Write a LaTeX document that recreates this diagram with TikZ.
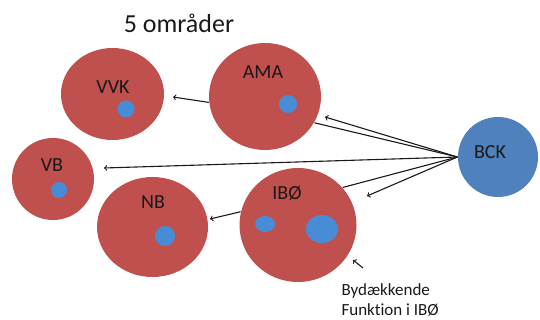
\documentclass[tikz,border=0pt]{standalone}
\usepackage{fontspec}
\setmainfont{Carlito}[Ligatures=NoCommon]
\usetikzlibrary{arrows,shapes}
\definecolor{areared}{RGB}{192,80,77}
\definecolor{bckblue}{RGB}{79,129,189}
\definecolor{dotblue}{RGB}{72,140,214}
\begin{document}
\begin{tikzpicture}[x=1pt, y=-1pt, line width=1.1pt, draw=black!90, area node/.style={ellipse,fill=areared,inner sep=0pt}, dot node/.style={ellipse,fill=dotblue,inner sep=0pt}, name node/.style={font=\fontsize{20}{24}\selectfont, text=black!90, inner sep=0pt}]
\useasboundingbox (0,0) rectangle (540,320);
\begin{scope}
\node[area node, minimum width=103pt, minimum height=92pt] (vvk) at (112.5,94) {};
\node[area node, minimum width=112pt, minimum height=107pt] (ama) at (265,96.5) {};
\node[area node, minimum width=82pt, minimum height=82pt] (vb) at (53,179) {};
\node[area node, minimum width=111pt, minimum height=100pt] (nb) at (152.5,227) {};
\node[area node, minimum width=117pt, minimum height=114pt] (ibo) at (298,225) {};
\node[circle, fill=bckblue, minimum size=80pt, inner sep=0pt] (bck) at (498,157) {};
\end{scope}
\begin{scope}
\node[dot node, minimum width=17pt, minimum height=17pt] (vvk dot) at (126,109) {};
\node[dot node, minimum width=18pt, minimum height=18pt] (ama dot) at (288,104) {};
\node[dot node, minimum width=16pt, minimum height=16pt] (vb dot) at (59,190) {};
\node[dot node, minimum width=20pt, minimum height=20pt] (nb dot) at (165,236) {};
\node[dot node, minimum width=20pt, minimum height=16pt] (ibo dot1) at (265,224) {};
\node[dot node, minimum width=32pt, minimum height=28pt] (ibo dot2) at (322,229) {};
\end{scope}
\begin{scope}[every node/.style={name node}]
\node (vvk name) at (113,87) {VVK};
\node (ama name) at (263,72) {AMA};
\node (vb name) at (52,165) {VB};
\node (nb name) at (153,202) {NB};
\node (ibo name) at (287,193) {IBØ};
\node (bck name) at (490,152) {BCK};
\end{scope}
\node[font=\fontsize{26}{30}\selectfont, text=black!90, anchor=base, inner sep=0pt] (title) at (179,33) {5 områder};
\node[font=\fontsize{17}{20}\selectfont, text=black!90, align=left, anchor=north west, inner sep=0pt] (note) at (341,283) {Bydækkende\\Funktion i IBØ};
\coordinate (ama tip) at (325,117);
\coordinate (vb tip) at (104,168);
\coordinate (ibo tip) at (367,196);
\coordinate (vvk tip) at (173,97);
\coordinate (nb tip) at (210,219);
\coordinate (note tail) at (363,268);
\coordinate (note tip) at (353,260);
\begin{scope}
\draw (bck.west) edge[->] (ama tip);
\draw (bck.west) edge (ama.-28);
\draw (bck.west) edge[->] (vb tip);
\draw (bck.west) edge (ibo.40);
\draw (bck.west) edge[->] (ibo tip);
\draw (ama.186) edge[->] (vvk tip);
\draw (ibo.167) edge[->] (nb tip);
\draw (note tail) edge[->] (note tip);
\end{scope}
\end{tikzpicture}
\end{document}
